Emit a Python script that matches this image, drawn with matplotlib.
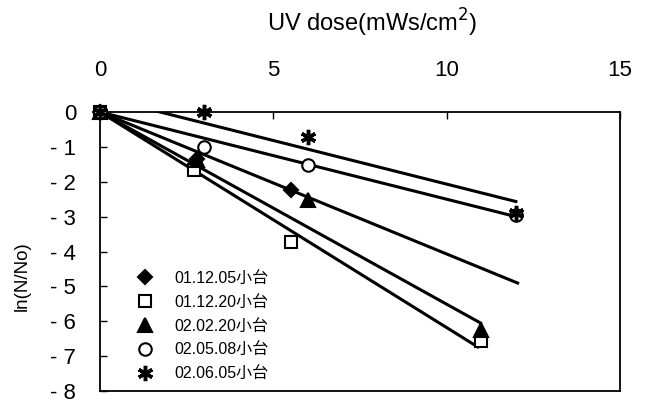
import matplotlib
matplotlib.use("Agg")
import matplotlib.pyplot as plt
import numpy as np

plt.rcParams['font.family'] = ['Liberation Sans', 'Noto Sans CJK JP', 'DejaVu Sans']

labels = ["01.12.05小台", "01.12.20小台", "02.02.20小台", "02.05.08小台", "02.06.05小台"]
dose = [
    [0, 2.8, 5.5],
    [0, 2.7, 5.5, 11.0],
    [0, 2.8, 6.0, 11.0],
    [0, 3.0, 6.0, 12.0],
    [0, 3.0, 6.0, 12.0],
]
lnN = [
    [0, -1.35, -2.23],
    [0, -1.66, -3.72, -6.58],
    [0, -1.38, -2.52, -6.25],
    [0, -0.99, -1.52, -2.95],
    [0, 0.0, -0.71, -2.9],
]
# trendlines: slope, intercept, x end
trend_slope = [-0.407, -0.618, -0.551, -0.25, -0.25]
trend_icpt = [0.0, 0.0, 0.0, 0.0, 0.433]
trend_xend = [12.05, 10.9, 10.98, 12.0, 12.0]

markers = ['D', 's', '^', 'o', (6, 2, 0)]
mfc = ['black', 'white', 'black', 'white', 'black']
msize = [7.5, 9, 9.5, 9, 11]

fig = plt.figure(figsize=(6.45, 4.0), dpi=100)
ax = fig.add_axes([0.155, 0.0225, 0.806, 0.6975])

xx = np.linspace(0, 1, 50)
for s, b, xe in zip(trend_slope, trend_icpt, trend_xend):
    x = xx * xe
    ax.plot(x, b + s * x, color='black', lw=2.2)

for i in range(5):
    ax.plot(dose[i], lnN[i], linestyle='none', marker=markers[i], ms=msize[i],
            mfc=mfc[i], mec='black', mew=1.5 if i != 4 else 2.5, color='black',
            label=labels[i], clip_on=False, zorder=5)

ax.set_xlim(0, 15)
ax.set_ylim(-8, 0)
ax.xaxis.tick_top()
ax.xaxis.set_label_position('top')
ax.set_xticks([0, 5, 10, 15])
ax.set_yticks(np.arange(0, -9, -1))
ax.set_yticklabels(["0"] + ["- %d" % k for k in range(1, 9)])
ax.tick_params(axis='both', direction='in', length=5, width=1, labelsize=16)
ax.tick_params(axis='x', pad=22)
ax.tick_params(axis='y', pad=17)
ax.set_xlabel("UV dose(mWs/cm$^2$)", fontsize=17)
ax.xaxis.set_label_coords(0.523, 1.287)
ax.xaxis.label.set_verticalalignment('baseline')
ax.set_ylabel("ln(N/No)", fontsize=13.5)
ax.yaxis.set_label_coords(-0.133, 0.41)
for sp in ax.spines.values():
    sp.set_linewidth(1.3)

ax.legend(loc='lower left', bbox_to_anchor=(0.05, -0.005), frameon=False, fontsize=11.5,
          handletextpad=1.3, labelspacing=0.55, handlelength=1.0, borderpad=0.2)

fig.savefig("out.png", dpi=100)
